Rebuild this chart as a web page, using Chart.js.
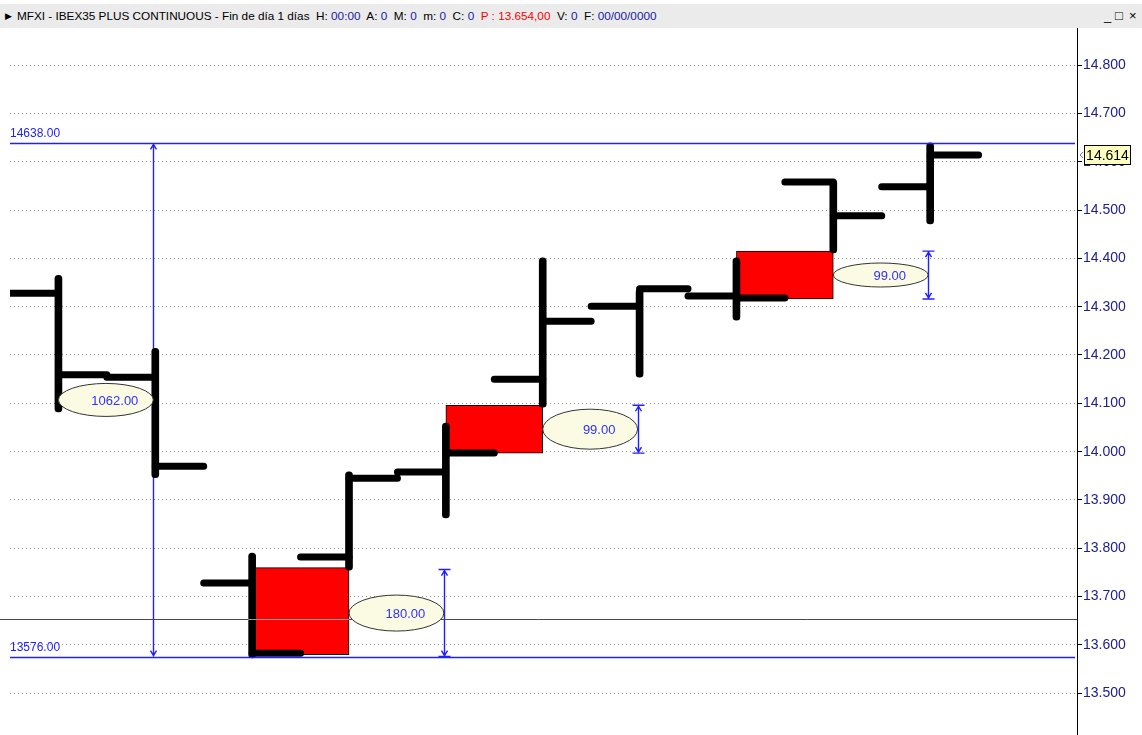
<!DOCTYPE html>
<html>
<head>
<meta charset="utf-8">
<script src="https://cdn.jsdelivr.net/npm/chart.js@4.4.1/dist/chart.umd.min.js"></script>
<style>
html, body { margin: 0; padding: 0; background: #fff; }
#hdr {
  position: absolute; left: 0; top: 4px; width: 1142px; height: 24px;
  background: #ebebeb; font-family: "Liberation Sans", Arial, sans-serif;
  font-size: 11.75px; line-height: 24px; color: #000; white-space: nowrap;
}
#hdr .tri { position: absolute; left: 5px; font-size: 9px; }
#hdr .txt { position: absolute; left: 17px; }
#hdr .v { color: #1a1aa8; }
#hdr .r { color: #ff0000; }
#hdr .btn { position: absolute; top: 0; font-size: 13px; }
#wrap { position: absolute; left: 0; top: 28px; width: 1142px; height: 707px; }
</style>
</head>
<body>
<div id="hdr">
  <span class="tri">&#9654;</span>
  <span class="txt">MFXI - IBEX35 PLUS CONTINUOUS - Fin de día 1 días&nbsp; H: <span class="v">00:00</span>&nbsp; A: <span class="v">0</span>&nbsp; M: <span class="v">0</span>&nbsp; m: <span class="v">0</span>&nbsp; C: <span class="v">0</span>&nbsp; <span class="r">P : 13.654,00</span>&nbsp; V: <span class="v">0</span>&nbsp; F: <span class="v">00/00/0000</span></span>
  <span class="btn" style="left:1104px">_</span>
  <span class="btn" style="left:1115px">&#9633;</span>
  <span class="btn" style="left:1129px">&#215;</span>
</div>
<div id="wrap"><canvas id="c" width="1142" height="707"></canvas></div>
<script>
// daily bars
var bars   = [0, 1, 2, 3, 4, 5, 6, 7, 8, 9];
var opens  = [14328, 14154, 13728, 13782, 13958, 14150, 14301, 14322, 14558, 14548];
var highs  = [14365, 14214, 13790, 13958, 14059, 14401, 14337, 14401, 14562, 14639];
var lows   = [14082, 13946, 13573, 13755, 13863, 14092, 14154, 14272, 14411, 14471];
var closes = [14159, 13970, 13583, 13945, 13997, 14270, 14337, 14318, 14488, 14614];

// red zones (start bar -> next bar)
var zoneStart = [2, 4, 7];
var zoneLow   = [13580, 13997, 14316];
var zoneHigh  = [13760, 14096, 14415];

// horizontal levels and price line
var levels = [14638, 13576];
var levelText = ['14638.00', '13576.00'];
var priceLine = 13654;

// measurements
var measureAt   = [1, 4, 6, 9];
var measureFrom = [13576, 13576, 13997, 14316];
var measureTo   = [14638, 13756, 14096, 14415];
var measureText = ['1062.00', '180.00', '99.00', '99.00'];

var yMin = 13413.7, yMax = 14876.6, yStep = 100;
var xMin = -0.5, xMax = 10.516;

// ellipse heights per measurement (style)
var ellH = [33, 36, 40, 24];
var blue = '#2020ff';

var tickPts = [];
bars.forEach(function (b, i) {
  tickPts.push({x: b - 0.5, y: opens[i]}, {x: b, y: opens[i]}, {x: b, y: null},
               {x: b, y: closes[i]}, {x: b + 0.5, y: closes[i]}, {x: b + 0.5, y: null});
});

var overlay = {
  id: 'overlay',
  beforeDatasetsDraw: function (chart) {
    var ctx = chart.ctx, xs = chart.scales.x, ys = chart.scales.y;
    ctx.save();
    ctx.strokeStyle = blue;
    ctx.lineWidth = 1.4;
    measureAt.forEach(function (m, k) {
      var x = Math.round(xs.getPixelForValue(m)) - 1.5;
      var y1 = ys.getPixelForValue(measureTo[k]);
      var y2 = ys.getPixelForValue(measureFrom[k]);
      ctx.beginPath();
      ctx.moveTo(x, y1); ctx.lineTo(x, y2);
      if (k > 0) {
        ctx.moveTo(x - 6, y1); ctx.lineTo(x + 6, y1);
        ctx.moveTo(x - 6, y2); ctx.lineTo(x + 6, y2);
      }
      ctx.moveTo(x - 3, y1 + 6); ctx.lineTo(x, y1 + 1); ctx.lineTo(x + 3, y1 + 6);
      ctx.moveTo(x - 3, y2 - 6); ctx.lineTo(x, y2 - 1); ctx.lineTo(x + 3, y2 - 6);
      ctx.stroke();
    });
    ctx.restore();
  },
  afterDatasetsDraw: function (chart) {
    var ctx = chart.ctx, xs = chart.scales.x, ys = chart.scales.y, a = chart.chartArea;
    ctx.save();
    // levels
    ctx.font = '12px "Liberation Sans", Arial, sans-serif';
    ctx.textBaseline = 'bottom';
    ctx.textAlign = 'left';
    levels.forEach(function (lv, k) {
      var y = Math.round(ys.getPixelForValue(lv)) + 0.5;
      ctx.lineWidth = 1.6;
      ctx.strokeStyle = blue;
      ctx.beginPath(); ctx.moveTo(a.left, y); ctx.lineTo(a.right - 2, y); ctx.stroke();
      ctx.fillStyle = blue;
      ctx.fillText(levelText[k], a.left, y - 4);
    });
    // price line
    ctx.lineWidth = 1;
    var py = Math.round(ys.getPixelForValue(priceLine)) + 0.5;
    ctx.strokeStyle = '#4a4a4a';
    ctx.beginPath(); ctx.moveTo(0, py); ctx.lineTo(a.right, py); ctx.stroke();
    ctx.strokeStyle = '#9a9a9a';
    zoneStart.forEach(function (s, k) {
      if (priceLine > zoneLow[k] && priceLine < zoneHigh[k]) {
        ctx.beginPath();
        ctx.moveTo(xs.getPixelForValue(s) - 4, py);
        ctx.lineTo(xs.getPixelForValue(s + 1), py);
        ctx.stroke();
      }
    });
    // ellipses
    ctx.textBaseline = 'middle';
    ctx.textAlign = 'center';
    ctx.font = '13px "Liberation Sans", Arial, sans-serif';
    measureAt.forEach(function (m, k) {
      var x0 = xs.getPixelForValue(m - 1), x1 = xs.getPixelForValue(m) - 2;
      var cy = (ys.getPixelForValue(measureTo[k]) + ys.getPixelForValue(measureFrom[k])) / 2;
      var cx = (x0 + x1) / 2;
      ctx.beginPath();
      ctx.ellipse(cx, cy, (x1 - x0) / 2, ellH[k] / 2, 0, 0, Math.PI * 2);
      ctx.fillStyle = '#fbfbe4';
      ctx.fill();
      ctx.strokeStyle = '#333';
      ctx.stroke();
      ctx.fillStyle = '#3030ff';
      ctx.fillText(measureText[k], cx + 9, cy + 1);
    });
    ctx.restore();
  },
  afterDraw: function (chart) {
    var ctx = chart.ctx, ys = chart.scales.y, a = chart.chartArea;
    var last = closes[closes.length - 1];
    var y = Math.round(ys.getPixelForValue(last));
    ctx.save();
    ctx.fillStyle = '#ffffc0';
    ctx.strokeStyle = '#000';
    ctx.lineWidth = 1;
    ctx.fillRect(a.right + 7.5, y - 9.5, 46, 19);
    ctx.strokeRect(a.right + 7.5, y - 9.5, 46, 19);
    ctx.fillStyle = '#000';
    ctx.font = '14px "Liberation Sans", Arial, sans-serif';
    ctx.textBaseline = 'middle';
    ctx.textAlign = 'center';
    ctx.fillText((last / 1000).toFixed(3), a.right + 30.5, y + 1);
    ctx.strokeStyle = '#777';
    ctx.beginPath();
    ctx.moveTo(a.right + 6, y - 3); ctx.lineTo(a.right + 3, y); ctx.lineTo(a.right + 6, y + 3);
    ctx.stroke();
    ctx.restore();
  }
};

new Chart(document.getElementById('c'), {
  type: 'bar',
  data: {
    datasets: [
      {
        type: 'bar',
        label: 'HL',
        data: bars.map(function (b, i) { return {x: b, y: [lows[i], highs[i]]}; }),
        backgroundColor: '#000',
        barThickness: 7,
        borderRadius: 4,
        borderSkipped: false,
        grouped: false,
        order: 1
      },
      {
        type: 'line',
        label: 'OC',
        data: tickPts,
        borderColor: '#000',
        borderWidth: 7,
        borderCapStyle: 'round',
        borderJoinStyle: 'round',
        pointRadius: 0,
        spanGaps: false,
        tension: 0,
        order: 2
      },
      {
        type: 'bar',
        label: 'zones',
        xAxisID: 'x2',
        data: zoneStart.map(function (s, k) { return {x: s + 0.5, y: [zoneLow[k], zoneHigh[k]]}; }),
        backgroundColor: '#ff0000',
        borderColor: '#000',
        borderWidth: 1,
        borderSkipped: false,
        barPercentage: 1,
        categoryPercentage: 1,
        grouped: false,
        order: 3
      }
    ]
  },
  options: {
    responsive: false,
    animation: false,
    layout: { padding: { left: 10, top: 0, right: 0, bottom: 0 } },
    plugins: { legend: { display: false }, tooltip: { enabled: false } },
    scales: {
      x: {
        type: 'linear', display: false, offset: false, min: xMin, max: xMax,
        grid: { offset: false },
        ticks: { stepSize: 1, includeBounds: false }
      },
      x2: {
        type: 'linear', display: false, offset: false, min: xMin, max: xMax,
        grid: { offset: false },
        ticks: { stepSize: 1, includeBounds: false }
      },
      y: {
        type: 'linear', position: 'right', min: yMin, max: yMax,
        afterFit: function (s) { s.width = 65; s.paddingTop = 0; s.paddingBottom = 0; },
        grid: { color: '#9a9a9a', lineWidth: 1, tickColor: '#000', tickLength: 5, tickBorderDash: [] },
        border: { display: true, color: '#000', width: 1, dash: [1, 3] },
        ticks: {
          stepSize: yStep, includeBounds: false, padding: 1,
          color: '#20208a',
          font: { family: '"Liberation Sans", Arial, sans-serif', size: 14 },
          callback: function (v) { return (v / 1000).toFixed(3); }
        }
      }
    }
  },
  plugins: [overlay]
});
</script>
</body>
</html>
